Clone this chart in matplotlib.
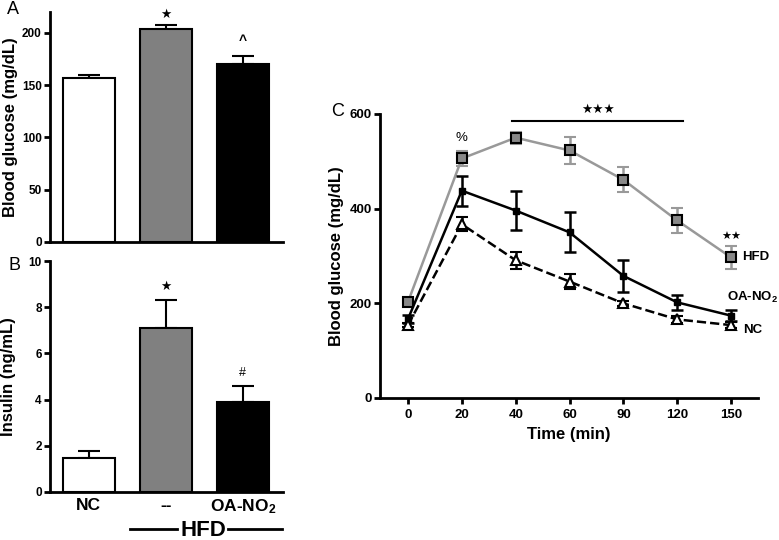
import matplotlib
matplotlib.use("Agg")
import matplotlib.pyplot as plt
import numpy as np

plt.rcParams['font.family'] = ['Liberation Sans', 'DejaVu Sans']
plt.rcParams['mathtext.fontset'] = 'custom'
plt.rcParams['mathtext.rm'] = 'Liberation Sans'
plt.rcParams['mathtext.bf'] = 'Liberation Sans:bold'
plt.rcParams['mathtext.it'] = 'Liberation Sans:italic'

# ---------------- data ----------------
groups = ["NC", "--", r"OA-NO$_\mathbf{2}$"]
glucose = [157, 203.5, 170]
glucose_err = [2.5, 4, 8]
insulin = [1.46, 7.12, 3.91]
insulin_err = [0.3, 1.2, 0.7]
bar_colors = ["white", "#808080", "black"]

times = ["0", "20", "40", "60", "90", "120", "150"]
hfd = [203, 506, 550, 523, 461, 375, 297]
hfd_err = [6, 16, 13, 28, 26, 27, 25]
oa = [167, 438, 396, 350, 258, 202, 174]
oa_err = [8, 32, 42, 42, 34, 16, 12]
nc = [154, 367, 291, 246, 200, 166, 154]
nc_err = [5, 15, 18, 15, 5, 7, 6]

W, H = 779, 540
fig = plt.figure(figsize=(W / 100, H / 100), dpi=100)

def rect(l, r, t, b):
    return [l / W, 1 - b / H, (r - l) / W, (b - t) / H]

def fx(px):
    return px / W

def fy(py):
    return 1 - py / H

def style(ax, fs):
    for s in ["top", "right"]:
        ax.spines[s].set_visible(False)
    for s in ["left", "bottom"]:
        ax.spines[s].set_linewidth(2)
    ax.tick_params(width=2, length=4, labelsize=fs, direction="out", pad=2)
    for lab in ax.get_yticklabels() + ax.get_xticklabels():
        lab.set_fontweight("bold")

STAR = ["DejaVu Sans"]

# ---------------- panel A ----------------
axA = fig.add_axes(rect(50, 283, 12, 242))
x = np.arange(len(groups))
axA.bar(x, glucose, width=0.675, color=bar_colors, edgecolor="black", linewidth=1.5, zorder=2)
axA.errorbar(x, glucose, yerr=[np.zeros(3), glucose_err], fmt="none", ecolor="black",
             elinewidth=1.5, capsize=8, capthick=1.5, zorder=1)
axA.set_xlim(-0.5, 2.52)
axA.set_ylim(0, 220)
axA.set_yticks([0, 50, 100, 150, 200])
axA.set_xticks([])
axA.set_ylabel("Blood glucose (mg/dL)", fontsize=12, fontweight="bold", labelpad=3)
style(axA, 8.5)
axA.text(1, 218, "★", ha="center", va="center", fontsize=9, family=STAR, clip_on=False)
axA.text(2, 192, "^", ha="center", va="center", fontsize=10, fontweight="bold")
fig.text(fx(13), fy(9), "A", fontsize=13, ha="center", va="center")

# ---------------- panel B ----------------
axB = fig.add_axes(rect(50, 283, 261, 492))
axB.bar(x, insulin, width=0.675, color=bar_colors, edgecolor="black", linewidth=1.5, zorder=2)
axB.errorbar(x, insulin, yerr=[np.zeros(3), insulin_err], fmt="none", ecolor="black",
             elinewidth=1.5, capsize=8, capthick=1.5, zorder=1)
axB.set_xlim(-0.5, 2.52)
axB.set_ylim(0, 10)
axB.set_yticks([0, 2, 4, 6, 8, 10])
axB.set_xticks(x)
axB.set_xticklabels(groups)
axB.set_ylabel("Insulin (ng/mL)", fontsize=12, fontweight="bold", labelpad=9)
style(axB, 8.5)
axB.tick_params(axis="x", length=0, pad=4)
for lab in axB.get_xticklabels():
    lab.set_fontsize(12.5)
axB.text(1, 8.9, "★", ha="center", va="center", fontsize=9, family=STAR)
axB.text(2, 5.15, "#", ha="center", va="center", fontsize=9)
fig.text(fx(14), fy(265), "B", fontsize=13, ha="center", va="center")
# HFD bracket
fig.text(fx(203), fy(530), "HFD", fontsize=16, fontweight="bold", ha="center", va="center")
fig.add_artist(plt.Line2D([fx(130), fx(177)], [fy(529)] * 2, color="black", lw=2))
fig.add_artist(plt.Line2D([fx(228), fx(282)], [fy(529)] * 2, color="black", lw=2))

# ---------------- panel C ----------------
axC = fig.add_axes(rect(380, 758, 114, 398))
xt = np.arange(len(times))
axC.errorbar(xt, hfd, yerr=hfd_err, color="#999999", lw=1.8, capsize=4, capthick=1.8,
             elinewidth=1.8, marker="s", markersize=7, markerfacecolor="#888888",
             markeredgecolor="black", markeredgewidth=1.5, zorder=3)
axC.errorbar(xt, oa, yerr=oa_err, color="black", lw=1.8, capsize=4, capthick=1.8,
             elinewidth=1.8, marker="s", markersize=5, markerfacecolor="black",
             markeredgecolor="black", zorder=4)
axC.errorbar(xt, nc, yerr=nc_err, color="black", lw=1.8, ls="--", capsize=4, capthick=1.8,
             elinewidth=1.8, marker="^", markersize=7, markerfacecolor="white",
             markeredgecolor="black", markeredgewidth=1.5, zorder=5)
axC.set_xlim(-0.52, 6.5)
axC.set_ylim(0, 600)
axC.set_yticks([0, 200, 400, 600])
axC.set_xticks(xt)
axC.set_xticklabels(times)
axC.set_xlabel("Time (min)", fontsize=12, fontweight="bold", labelpad=4)
axC.set_ylabel("Blood glucose (mg/dL)", fontsize=12, fontweight="bold", labelpad=4)
style(axC, 9.5)
axC.tick_params(axis="x", pad=4)
axC.text(1, 550, "%", ha="center", va="center", fontsize=9.5)
axC.plot([1.93, 5.11], [586, 586], color="black", lw=1.5, clip_on=False)
axC.text(3.53, 609, "★★★", ha="center", va="center", fontsize=9, family=STAR, clip_on=False)
axC.text(6, 340, "★★", ha="center", va="center", fontsize=8, family=STAR)
axC.text(6.2, 297, "HFD", ha="left", va="center", fontsize=9.5, fontweight="bold")
axC.text(5.92, 212, r"OA-NO$_\mathbf{2}$", ha="left", va="center", fontsize=9.5, fontweight="bold")
axC.text(6.22, 144, "NC", ha="left", va="center", fontsize=9.5, fontweight="bold")
fig.text(fx(338), fy(112), "C", fontsize=13, ha="center", va="center")

fig.savefig("out.png", dpi=100)
